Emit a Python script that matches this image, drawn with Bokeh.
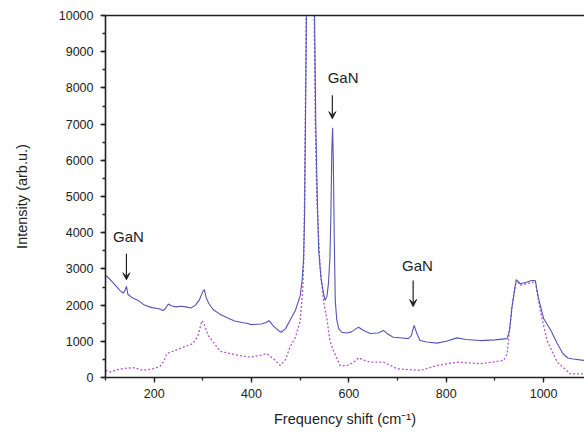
from bokeh.plotting import figure
from bokeh.models import Range1d, LinearAxis, Arrow, VeeHead, SingleIntervalTicker, FixedTicker, Label
from bokeh.embed import file_html
from bokeh.resources import INLINE

# Raman spectrum, solid (with GaN) curve
solid_x = [100, 110, 120, 130, 136, 140, 143, 146, 155, 167, 180, 195, 210, 218, 223, 229, 235, 245,
           255, 265, 275, 285, 293, 300, 303, 307, 312, 321, 335, 350, 365, 380, 390, 400, 420, 430,
           436, 445, 455, 461, 470, 480, 490, 500, 504, 507, 509, 510, 511.5, 513, 516, 521, 526, 529,
           532, 535, 538, 543, 548, 551, 555, 558, 561, 563, 565, 566.5, 568, 570, 572, 575, 579, 585,
           595, 605, 615, 620, 630, 644, 660, 671, 680, 691, 710, 722, 728, 734, 740, 746, 760, 781,
           800, 822, 840, 870, 900, 925, 930, 935, 940, 944, 952, 965, 975, 983, 989, 1000, 1015, 1028,
           1040, 1050, 1060, 1084]
solid_y = [2830, 2700, 2550, 2400, 2330, 2400, 2520, 2300, 2200, 2130, 2000, 1930, 1900, 1850, 1900,
           2030, 1980, 1950, 1970, 1950, 1920, 2000, 2150, 2380, 2430, 2200, 2050, 1880, 1750, 1650,
           1560, 1520, 1500, 1460, 1480, 1520, 1570, 1420, 1300, 1250, 1350, 1600, 1850, 2260, 2700,
           3300, 4500, 6000, 8000, 10500, 20000, 30000, 20000, 10500, 7000, 5000, 3500, 2700, 2320,
           2130, 2250, 2600, 3300, 4500, 6300, 6900, 6000, 3800, 2130, 1600, 1350, 1250, 1230, 1260,
           1350, 1390, 1300, 1215, 1230, 1300, 1200, 1110, 1090, 1075, 1150, 1440, 1200, 1020, 980,
           950, 1000, 1095, 1050, 1020, 1040, 1075, 1300, 1940, 2400, 2700, 2590, 2630, 2680, 2680,
           2220, 1630, 1300, 940, 650, 540, 510, 470]

# Reference (dotted) curve
dotted_x = [100, 110, 125, 144, 160, 177, 200, 212, 220, 226, 253, 280, 290, 298, 302, 311, 336, 370,
            397, 420, 431, 445, 459, 470, 479, 490, 500, 505, 507, 509, 511, 513, 521, 528, 531, 534,
            538, 541, 548, 555, 561, 568, 582, 596, 610, 620, 630, 644, 671, 699, 747, 781, 822, 870,
            918, 925, 935, 944, 952, 983, 993, 1007, 1028, 1055, 1084]
dotted_y = [195, 150, 220, 260, 270, 195, 250, 310, 450, 660, 800, 940, 1150, 1570, 1500, 1160, 720,
            620, 560, 620, 660, 520, 330, 500, 840, 1100, 1570, 2400, 3150, 5000, 8000, 11000, 30000,
            11000, 7000, 5000, 3800, 3040, 2100, 1600, 1020, 750, 330, 330, 420, 545, 480, 425, 425,
            240, 195, 330, 425, 380, 470, 650, 1950, 2700, 2550, 2650, 1850, 1020, 425, 100, 100]

# Annotations: label, peak position
ann_labels = ["GaN", "GaN", "GaN"]
ann_peaks = [143, 566, 732]

p = figure(width=584, height=439, output_backend="svg", toolbar_location=None,
           x_range=Range1d(100, 1084), y_range=Range1d(0, 10000),
           min_border_left=105, min_border_right=0, min_border_top=15, min_border_bottom=62)
p.outline_line_color = None
p.xgrid.visible = False
p.ygrid.visible = False
p.background_fill_color = "white"
p.border_fill_color = "white"

p.line(dotted_x, dotted_y, line_color="#b255c8", line_width=1.3, line_dash="2 2")
p.line(solid_x, solid_y, line_color="#5454b8", line_width=1.1)

font = "Liberation Sans"
for ax in (p.xaxis[0], p.yaxis[0]):
    ax.axis_line_color = "#222222"
    ax.axis_line_width = 1.6
    ax.major_tick_line_color = "#222222"
    ax.minor_tick_line_color = "#222222"
    ax.major_tick_line_width = 1.3
    ax.minor_tick_line_width = 1.3
    ax.major_tick_in = 0
    ax.major_tick_out = 5
    ax.minor_tick_in = 0
    ax.minor_tick_out = 3
    ax.major_label_text_font = font
    ax.major_label_text_font_size = "12.5px"
    ax.major_label_text_color = "#222222"
    ax.axis_label_text_font = font
    ax.axis_label_text_font_size = "14.5px"
    ax.axis_label_text_font_style = "normal"
    ax.axis_label_text_color = "#222222"

p.xaxis[0].ticker = SingleIntervalTicker(interval=200, num_minor_ticks=2)
p.yaxis[0].ticker = SingleIntervalTicker(interval=1000, num_minor_ticks=2)
p.xaxis[0].axis_label = "Frequency shift (cm\u207b\u00b9)"
p.yaxis[0].axis_label = "Intensity (arb.u.)"
p.xaxis[0].major_label_standoff = 6
p.yaxis[0].major_label_standoff = 7
p.xaxis[0].axis_label_standoff = 10
p.yaxis[0].axis_label_standoff = 26

top = LinearAxis(ticker=FixedTicker(ticks=[]), axis_line_color="#222222", axis_line_width=1.6,
                 major_tick_line_color=None, minor_tick_line_color=None,
                 major_label_standoff=0)
p.add_layout(top, "above")

# GaN annotations
lab_off = [4, 22, 9]
lab_y = [3900, 8300, 3100]
arr_top = [3420, 7800, 2680]
arr_bot = [2700, 7150, 1960]
for i, txt in enumerate(ann_labels):
    x0 = ann_peaks[i]
    p.add_layout(Label(x=x0 + lab_off[i], y=lab_y[i], text=txt, text_align="center",
                       text_baseline="middle", text_font=font, text_font_size="15px",
                       text_color="#222222"))
    p.add_layout(Arrow(end=VeeHead(size=7, line_color="#222222", fill_color="#222222",
                                   line_width=1),
                       x_start=x0, y_start=arr_top[i], x_end=x0, y_end=arr_bot[i],
                       line_color="#222222", line_width=1.2))

open("out.html", "w").write(file_html(p, INLINE))
